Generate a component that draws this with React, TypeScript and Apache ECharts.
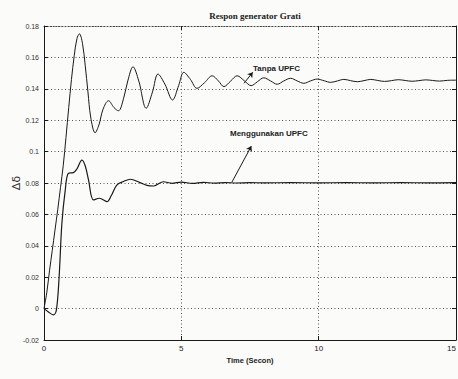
import React, { useEffect, useRef } from "react";
import * as echarts from "echarts";

const tanpaTime = [0, 0.1, 0.2, 0.3, 0.4, 0.5, 0.6, 0.7, 0.8, 0.9, 1.0, 1.1, 1.2, 1.29, 1.4, 1.5, 1.6, 1.7, 1.86, 2.0, 2.15, 2.35, 2.55, 2.71, 2.9, 3.05, 3.24, 3.45, 3.72, 3.95, 4.15, 4.4, 4.68, 4.9, 5.09, 5.33, 5.57, 5.85, 6.12, 6.35, 6.55, 6.8, 7.03, 7.3, 7.54, 7.77, 8.0, 8.25, 8.49, 8.73, 8.98, 9.22, 9.46, 9.7, 9.95, 10.2, 10.44, 10.68, 10.92, 11.16, 11.41, 11.65, 11.9, 12.15, 12.4, 12.65, 12.9, 13.15, 13.4, 13.65, 13.9, 14.15, 14.4, 14.7, 15];
const tanpaValue = [0, 0.01, 0.024, 0.037, 0.05, 0.063, 0.077, 0.091, 0.109, 0.128, 0.146, 0.161, 0.172, 0.175, 0.169, 0.155, 0.138, 0.122, 0.112, 0.117, 0.127, 0.1324, 0.128, 0.126, 0.134, 0.145, 0.154, 0.145, 0.1276, 0.138, 0.1494, 0.143, 0.1329, 0.142, 0.1505, 0.146, 0.1403, 0.144, 0.1483, 0.145, 0.1414, 0.145, 0.1483, 0.145, 0.142, 0.1445, 0.147, 0.145, 0.1429, 0.145, 0.1467, 0.145, 0.1435, 0.145, 0.1462, 0.1451, 0.1441, 0.145, 0.146, 0.1452, 0.1445, 0.1452, 0.146, 0.1453, 0.1447, 0.1452, 0.1458, 0.1453, 0.1448, 0.1452, 0.1457, 0.1453, 0.1449, 0.1454, 0.1455];

const upfcTime = [0, 0.15, 0.34, 0.45, 0.55, 0.65, 0.77, 0.89, 1.07, 1.2, 1.38, 1.5, 1.62, 1.8, 2.02, 2.29, 2.45, 2.65, 2.9, 3.14, 3.5, 3.75, 3.99, 4.35, 4.66, 5.0, 5.4, 5.8, 6.2, 6.6, 7.0, 7.5, 8, 9, 10, 11, 12, 13, 14, 15];
const upfcValue = [0, -0.002, -0.004, -0.001, 0.02, 0.054, 0.075, 0.0862, 0.0866, 0.089, 0.0946, 0.091, 0.082, 0.0692, 0.0703, 0.0681, 0.072, 0.0787, 0.081, 0.0824, 0.0802, 0.0785, 0.0781, 0.0808, 0.0798, 0.0806, 0.0797, 0.0804, 0.0799, 0.0803, 0.08, 0.0802, 0.0801, 0.0802, 0.0801, 0.0802, 0.0801, 0.0802, 0.0801, 0.0802];

const xTicks = { min: 0, max: 15, interval: 5 };
const yTicks = { min: -0.02, max: 0.18, interval: 0.02 };

const titleText = "Respon generator Grati";
const xName = "Time (Secon)";
const yName = "Δδ";
const labelTanpa = "Tanpa UPFC";
const labelUpfc = "Menggunakan UPFC";

const arrowTanpa = [[7.28, 0.1435], [7.6, 0.1505]];
const arrowUpfc = [[6.84, 0.0805], [7.55, 0.1035]];

const INK = "#1a1a1a";

export default function App() {
  const ref = useRef<HTMLDivElement>(null);
  useEffect(() => {
    document.body.style.margin = "0";
    const chart = echarts.init(ref.current!, undefined, { renderer: "svg" });
    const fmtY = (v: number) => {
      const r = Number(v.toFixed(2));
      return r === 0 ? "0" : String(r);
    };
    const gridDots = { show: true, lineStyle: { color: "#555", type: [1, 2.5] as any, width: 1 } };
    const tick = { show: true, inside: true, length: 4, lineStyle: { color: INK } };
    const line = { show: true, onZero: false, lineStyle: { color: INK, width: 1 } };
    const makeArrow = (pts: number[][]) => [[{ coord: pts[0] }, { coord: pts[1] }]];
    chart.setOption({
      animation: false,
      backgroundColor: "#fbfbfa",
      title: {
        text: titleText,
        left: 250,
        top: 6,
        textAlign: "center",
        textStyle: { fontFamily: "Liberation Serif", fontSize: 9, fontWeight: "bold", color: "#222" },
      },
      grid: { left: 44, right: 2, top: 26, bottom: 39, containLabel: false, outerBoundsMode: "none" },
      xAxis: [
        {
          type: "value",
          ...xTicks,
          position: "bottom",
          axisLine: line,
          axisTick: tick,
          splitLine: gridDots,
          axisLabel: { fontSize: 8, margin: 4, color: "#222", fontFamily: "Liberation Sans", alignMaxLabel: "right" },
          name: xName,
          nameLocation: "middle",
          nameGap: 16,
          nameMoveOverlap: false,
          nameTextStyle: { fontSize: 7.5, fontWeight: "bold", color: "#222", fontFamily: "Liberation Sans" },
        },
        {
          type: "value",
          ...xTicks,
          position: "top",
          axisLine: { show: true, onZero: false, lineStyle: { color: "#444", width: 1, type: [1, 2] as any } },
          axisTick: tick,
          axisLabel: { show: false },
          splitLine: { show: false },
        },
      ],
      yAxis: [
        {
          type: "value",
          ...yTicks,
          position: "left",
          axisLine: line,
          axisTick: tick,
          splitLine: gridDots,
          axisLabel: { fontSize: 7, margin: 5, color: "#333", formatter: fmtY, fontFamily: "Liberation Sans" },
          name: yName,
          nameLocation: "middle",
          nameGap: 22,
          nameMoveOverlap: false,
          nameTextStyle: { fontSize: 11, color: "#333", fontFamily: "DejaVu Sans" },
        },
        {
          type: "value",
          ...yTicks,
          position: "right",
          axisLine: line,
          axisTick: tick,
          axisLabel: { show: false },
          splitLine: { show: false },
        },
      ],
      series: [
        {
          name: labelTanpa,
          type: "line",
          xAxisIndex: 0,
          yAxisIndex: 0,
          data: tanpaTime.map((t, i) => [t, tanpaValue[i]]),
          symbol: "none",
          smooth: 0.35,
          lineStyle: { color: INK, width: 1 },
          markLine: {
            silent: true,
            symbol: ["none", "arrow"],
            symbolSize: 5,
            label: { show: false },
            lineStyle: { color: INK, width: 1, type: "solid" },
            data: makeArrow(arrowTanpa),
          },
        },
        {
          name: labelUpfc,
          type: "line",
          xAxisIndex: 0,
          yAxisIndex: 0,
          data: upfcTime.map((t, i) => [t, upfcValue[i]]),
          symbol: "none",
          smooth: 0.35,
          lineStyle: { color: INK, width: 1.2 },
          markLine: {
            silent: true,
            symbol: ["none", "arrow"],
            symbolSize: 5,
            label: { show: false },
            lineStyle: { color: INK, width: 1, type: "solid" },
            data: makeArrow(arrowUpfc),
          },
        },
      ],
      graphic: [
        {
          type: "text",
          left: 253,
          top: 64,
          style: { text: labelTanpa, fontSize: 8, fontWeight: "bold", fill: "#222", fontFamily: "Liberation Sans" },
        },
        {
          type: "text",
          left: 230,
          top: 129,
          style: { text: labelUpfc, fontSize: 8, fontWeight: "bold", fill: "#222", fontFamily: "Liberation Sans" },
        },
      ],
    });
    return () => chart.dispose();
  }, []);
  return <div ref={ref} style={{ width: 458, height: 379 }} />;
}
